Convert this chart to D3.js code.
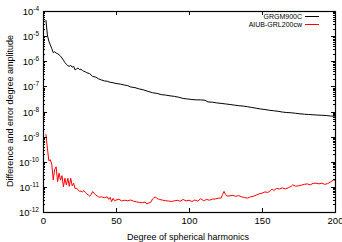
<!DOCTYPE html>
<html>
<head>
<meta charset="utf-8">
<script src="https://cdn.jsdelivr.net/npm/d3@7"></script>
<style>
    body { margin: 0; background: #fff; }
    svg { display: block; font-family: "Liberation Sans", Arial, sans-serif; }
</style>
</head>
<body>
<svg id="chart" width="342" height="242"></svg>
<script>
// degree amplitude series
var grgmDegrees = [2,3,4,5,6,7,8,9,10,11,12,13,14,15,16,17,18,19,20,21,22,23,24,25,26,27,28,29,30,
    32,34,36,38,40,42,44,46,48,50,53,56,58,60,63,66,69,72,75,78,81,84,87,90,93,96,99,102,105,108,
    111,113,116,119,122,125,128,131,134,137,140,143,146,149,152,155,158,161,164,167,170,173,176,
    179,182,185,188,191,194,197,200];
var grgmValues = [4.4e-5,1.1e-5,6.3e-6,4.5e-6,3.2e-6,2.2e-6,2.4e-6,2.1e-6,2.0e-6,1.8e-6,1.6e-6,1.35e-6,
    1.1e-6,8.9e-7,7.6e-7,6.6e-7,6.3e-7,6.9e-7,5.8e-7,6.3e-7,4.5e-7,5.0e-7,5.4e-7,4.7e-7,4.8e-7,
    4.3e-7,4.0e-7,3.8e-7,3.5e-7,3.2e-7,2.5e-7,2.35e-7,2.0e-7,1.8e-7,1.65e-7,1.6e-7,1.45e-7,1.4e-7,
    1.3e-7,1.23e-7,1.12e-7,1.07e-7,9.5e-8,8.9e-8,7.9e-8,7.2e-8,6.3e-8,5.6e-8,5.25e-8,4.7e-8,4.5e-8,
    4.2e-8,4.0e-8,3.7e-8,3.3e-8,3.15e-8,3.0e-8,2.9e-8,2.9e-8,2.8e-8,2.4e-8,2.35e-8,2.2e-8,2.1e-8,
    2.0e-8,1.9e-8,1.8e-8,1.7e-8,1.65e-8,1.55e-8,1.45e-8,1.35e-8,1.26e-8,1.2e-8,1.12e-8,1.07e-8,
    1.02e-8,9.5e-9,9.1e-9,8.9e-9,8.5e-9,8.1e-9,7.8e-9,7.6e-9,7.4e-9,7.2e-9,7.1e-9,6.9e-9,6.6e-9,6.5e-9];

var aiubDegrees = [2,3,4,5,6,7,8,9,10,11,12,13,14,15,16,17,18,19,20,21,22,23,24,25,26,27,28,29,30,
    31,32,33,34,35,36,37,38,39,40,42,44,45,46,47,48,49,50,52,54,56,58,60,62,64,66,68,70,71,72,74,75,
    76,77,78,79,80,82,84,86,88,90,92,94,96,98,100,102,104,106,108,110,112,114,116,118,120,122,123,
    124,125,126,128,130,132,134,136,138,140,142,144,146,148,150,152,154,156,157,158,160,162,164,
    166,168,170,171,173,175,177,179,181,183,185,187,189,191,193,195,197,199,200];
var aiubValues = [1.26e-9,3.5e-10,1.1e-10,1.2e-10,8e-11,1.9e-11,5e-11,6.3e-11,1.6e-11,3.5e-11,1.85e-11,
    2.8e-11,1.0e-11,2.2e-11,1.2e-11,2.2e-11,1.05e-11,2.2e-11,1.1e-11,1.4e-11,8.5e-12,8.9e-12,7.6e-12,
    6.6e-12,6.8e-12,6.3e-12,7.1e-12,6.0e-12,5.2e-12,4.8e-12,4.2e-12,5.0e-12,6.5e-12,5.6e-12,4.8e-12,
    4.4e-12,4.0e-12,3.9e-12,4.0e-12,3.7e-12,4.0e-12,3.2e-12,3.8e-12,2.6e-12,3.5e-12,2.8e-12,3.0e-12,
    3.2e-12,2.75e-12,2.95e-12,2.8e-12,3.0e-12,2.7e-12,2.55e-12,2.4e-12,2.35e-12,2.5e-12,2.1e-12,
    2.2e-12,2.5e-12,3.3e-12,3.7e-12,4.0e-12,3.45e-12,3.3e-12,3.15e-12,2.95e-12,2.8e-12,2.75e-12,
    2.6e-12,2.8e-12,2.9e-12,2.7e-12,3.15e-12,2.75e-12,2.95e-12,2.6e-12,3.0e-12,2.7e-12,3.4e-12,
    2.8e-12,3.15e-12,2.95e-12,3.25e-12,3.3e-12,3.55e-12,3.6e-12,5.0e-12,6.6e-12,5.0e-12,4.3e-12,
    4.4e-12,4.6e-12,4.2e-12,4.5e-12,4.0e-12,3.8e-12,3.55e-12,4.0e-12,4.2e-12,4.7e-12,5.25e-12,
    5.6e-12,6.3e-12,6.0e-12,7.2e-12,8.3e-12,7.1e-12,8.7e-12,8.3e-12,9.1e-12,8.3e-12,9.3e-12,
    1.05e-11,1.2e-11,1.07e-11,1.1e-11,1.17e-11,1.26e-11,1.32e-11,1.2e-11,1.38e-11,1.41e-11,
    1.32e-11,1.41e-11,1.26e-11,1.35e-11,1.58e-11,1.86e-11,1.82e-11];

var xTicks = [0, 50, 100, 150, 200];
var yExponents = [-4, -5, -6, -7, -8, -9, -10, -11, -12];
var seriesNames = ['GRGM900C', 'AIUB-GRL200cw'];
var seriesColors = ['#000000', '#ff0000'];

(function () {
    var svg = d3.select('#chart');
    var pLeft = 43, pRight = 335, pTop = 11, pBottom = 212;

    var x = d3.scaleLinear().domain([0, 200]).range([pLeft, pRight]);
    var y = d3.scaleLog().domain([1e-12, 1e-4]).range([pBottom, pTop]);

    // minor ticks for log axis
    var minorTicks = [];
    for (var e = -12; e < -4; e++) {
        for (var m = 2; m <= 9; m++) {
            minorTicks.push(m * Math.pow(10, e));
        }
    }

    var g = svg.append('g');

    // curves first, frame drawn over them
    var line = d3.line()
        .x(function(d){ return x(d[0]); })
        .y(function(d){ return y(d[1]); });

    var series = [d3.zip(grgmDegrees, grgmValues), d3.zip(aiubDegrees, aiubValues)];
    series.forEach(function(s, i){
        g.append('path')
            .datum(s)
            .attr('d', line)
            .attr('fill', 'none')
            .attr('stroke', seriesColors[i])
            .attr('stroke-width', 1)
            .attr('stroke-linejoin', 'round');
    });

    // frame
    g.append('rect')
        .attr('x', pLeft + 0.5).attr('y', pTop + 0.5)
        .attr('width', pRight - pLeft).attr('height', pBottom - pTop)
        .attr('fill', 'none').attr('stroke', '#000').attr('stroke-width', 1.2);

    // y ticks (both sides, inward)
    yExponents.forEach(function(ex){
        var yy = Math.round(y(Math.pow(10, ex))) + 0.5;
        g.append('line').attr('x1', pLeft).attr('x2', pLeft + 4).attr('y1', yy).attr('y2', yy).attr('stroke', '#000');
        g.append('line').attr('x1', pRight - 4).attr('x2', pRight).attr('y1', yy).attr('y2', yy).attr('stroke', '#000');
        var t = g.append('text')
            .attr('x', 39).attr('y', yy + 3.5)
            .attr('text-anchor', 'end')
            .attr('font-size', 9.5).attr('fill', '#000');
        t.append('tspan').text('10');
        t.append('tspan').attr('dy', -4).attr('font-size', 6.5).text(ex);
    });
    minorTicks.forEach(function(v){
        var yy = Math.round(y(v)) + 0.5;
        g.append('line').attr('x1', pLeft).attr('x2', pLeft + 2).attr('y1', yy).attr('y2', yy).attr('stroke', '#000');
        g.append('line').attr('x1', pRight - 2).attr('x2', pRight).attr('y1', yy).attr('y2', yy).attr('stroke', '#000');
    });

    // x ticks (bottom and top, inward)
    xTicks.forEach(function(d){
        var xx = Math.round(x(d)) + 0.5;
        g.append('line').attr('x1', xx).attr('x2', xx).attr('y1', pBottom).attr('y2', pBottom - 4).attr('stroke', '#000');
        g.append('line').attr('x1', xx).attr('x2', xx).attr('y1', pTop).attr('y2', pTop + 4).attr('stroke', '#000');
        g.append('text')
            .attr('x', xx).attr('y', 224)
            .attr('text-anchor', 'middle')
            .attr('font-size', 9.5).attr('fill', '#000')
            .text(d);
    });

    // axis titles
    g.append('text')
        .attr('x', 188).attr('y', 240)
        .attr('text-anchor', 'middle')
        .attr('font-size', 9).attr('fill', '#000')
        .text('Degree of spherical harmonics');
    g.append('text')
        .attr('transform', 'translate(13,111) rotate(-90)')
        .attr('text-anchor', 'middle')
        .attr('font-size', 9).attr('fill', '#000')
        .text('Difference and error degree amplitude');

    // legend
    seriesNames.forEach(function(name, i){
        var ly = 16 + i * 8;
        g.append('text')
            .attr('x', 302).attr('y', ly + 2.5)
            .attr('text-anchor', 'end')
            .attr('font-size', 7).attr('fill', '#000')
            .text(name);
        g.append('line')
            .attr('x1', 305).attr('x2', 319)
            .attr('y1', ly + 0.5).attr('y2', ly + 0.5)
            .attr('stroke', seriesColors[i]).attr('stroke-width', 1);
    });
})();
</script>
</body>
</html>
